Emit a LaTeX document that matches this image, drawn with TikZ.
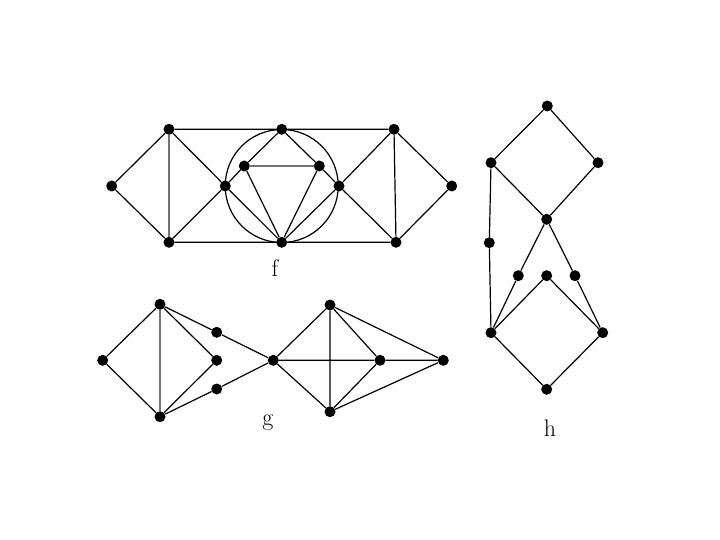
\documentclass[tikz,border=0pt]{standalone}
\begin{document}
\begin{tikzpicture}[x=1pt,y=-1pt,
  vtx/.style={circle,fill=black,inner sep=0pt,minimum size=11pt},
  edge/.style={line width=1.2pt,black},
  ledge/.style={line width=1.2pt,black!55},
  lbl/.style={font=\fontsize{24}{28}\selectfont,inner sep=0pt}]
\useasboundingbox (0,0) rectangle (720,540);
% ---- graph f
\node[vtx] (fL) at (111.7,186) {};
\node[vtx] (fTL) at (169,129.3) {};
\node[vtx] (fBL) at (169,242.3) {};
\node[vtx] (fML) at (225.3,186) {};
\node[vtx] (fT) at (281.7,129.3) {};
\node[vtx] (fB) at (281.7,242.3) {};
\node[vtx] (fIL) at (244.3,166) {};
\node[vtx] (fIR) at (319.3,166) {};
\node[vtx] (fMR) at (339,186) {};
\node[vtx] (fTR) at (394,129.3) {};
\node[vtx] (fBR) at (396,242.3) {};
\node[vtx] (fR) at (451.7,186) {};
\coordinate (fC) at (281.7,186);
\draw[edge] (fC) circle[radius=56.5];
\draw[edge] (fL)--(fTL) (fL)--(fBL) (fTL)--(fML) (fBL)--(fML)
  (fTL)--(fT) (fBL)--(fB) (fT)--(fTR) (fB)--(fBR) (fTR)--(fBR)
  (fTR)--(fMR) (fBR)--(fMR) (fTR)--(fR) (fBR)--(fR)
  (fML)--(fIL) (fIL)--(fT) (fT)--(fIR) (fIR)--(fMR)
  (fIL)--(fB) (fIR)--(fB) (fML)--(fB) (fMR)--(fB);
\draw[ledge] (fTL)--(fBL) (fIL)--(fIR);
\node[lbl] (flab) at (275,268) {f};
% ---- graph g
\node[vtx] (gA) at (102.7,360.3) {};
\node[vtx] (gT) at (160,304.3) {};
\node[vtx] (gB) at (160,416.7) {};
\node[vtx] (gs1) at (216.7,332.3) {};
\node[vtx] (gs2) at (216.7,360.3) {};
\node[vtx] (gs3) at (216.7,389) {};
\node[vtx] (gC) at (273.3,360.3) {};
\node[vtx] (gT2) at (330,305) {};
\node[vtx] (gB2) at (330,411.7) {};
\node[vtx] (gM2) at (380,360.3) {};
\node[vtx] (gR2) at (443.3,360.3) {};
\draw[edge] (gA)--(gT) (gA)--(gB) (gT)--(gs1) (gT)--(gs2) (gB)--(gs2) (gB)--(gs3)
  (gs1)--(gC) (gs3)--(gC) (gC)--(gT2) (gC)--(gB2) (gC)--(gM2) (gM2)--(gR2)
  (gT2)--(gB2) (gT2)--(gM2) (gT2)--(gR2) (gB2)--(gM2) (gB2)--(gR2);
\draw[ledge] (gT)--(gB);
\node[lbl] (glab) at (268,423) {g};
% ---- graph h
\node[vtx] (hT) at (547.3,106) {};
\node[vtx] (hUL) at (491,162.7) {};
\node[vtx] (hUR) at (598,162.7) {};
\node[vtx] (hM) at (546.7,219.3) {};
\node[vtx] (hLM) at (489.3,242.7) {};
\node[vtx] (ha) at (518.3,275.7) {};
\node[vtx] (hb) at (546.7,275.7) {};
\node[vtx] (hc) at (575,275.7) {};
\node[vtx] (hLL) at (491,332.7) {};
\node[vtx] (hLR) at (602.7,332.7) {};
\node[vtx] (hB) at (546.7,389.3) {};
\draw[edge] (hT)--(hUL) (hT)--(hUR) (hUL)--(hM) (hUR)--(hM) (hUL)--(hLM) (hLM)--(hLL)
  (hM)--(ha) (hM)--(hc) (ha)--(hLL) (hb)--(hLL) (hb)--(hLR) (hc)--(hLR)
  (hLL)--(hB) (hLR)--(hB);
\node[lbl] (hlab) at (550,428) {h};
\end{tikzpicture}
\end{document}
